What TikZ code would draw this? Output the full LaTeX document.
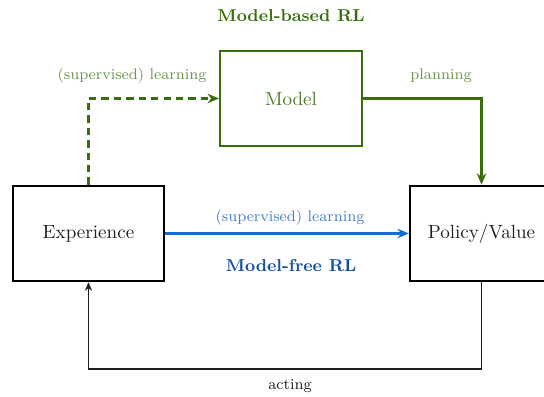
\documentclass[tikz,border=0pt]{standalone}
\usetikzlibrary{arrows.meta}
\definecolor{mbgreen}{RGB}{56,110,14}
\definecolor{mbtext}{RGB}{78,122,44}
\definecolor{mblabel}{RGB}{104,150,76}
\definecolor{mfblue}{RGB}{16,108,216}
\definecolor{mflabel}{RGB}{70,128,200}
\definecolor{mftitle}{RGB}{20,80,160}
\definecolor{inkgray}{RGB}{30,30,30}
\begin{document}
\begin{tikzpicture}[x=0.524pt,y=-0.524pt,
  blockbox/.style={draw, line width=1.1pt, minimum width=79pt, minimum height=50pt,
    inner sep=0pt, text=inkgray},
  modelbox/.style={blockbox, draw=mbgreen, text=mbtext, minimum width=74.4pt},
  greenarrow/.style={draw=mbgreen, line width=1.1pt, -{Stealth[length=6pt,width=5pt]}},
  bluearrow/.style={draw=mfblue, line width=1.1pt, -{Stealth[length=6pt,width=5pt]}},
  actarrow/.style={draw=inkgray, line width=0.8pt, -{Stealth[length=4.5pt,width=3.8pt]}},
  edgelabel/.style={font=\footnotesize},
  grouptitle/.style={font=\small\bfseries}]
\useasboundingbox (0,0) rectangle (544,397);

% boxes
\node[modelbox] (model) at (291,98.5) {Model};
\node[blockbox] (exp) at (88.5,233.5) {Experience};
\node[blockbox, minimum width=75pt] (pol) at (481.5,233.5) {Policy/Value};

% group titles
\node[grouptitle, text=mbgreen] (mbtitle) at (291,16) {Model-based RL};
\node[grouptitle, text=mftitle] (mftitle) at (291,266) {Model-free RL};

% model-based branch
\draw[greenarrow, dash pattern=on 3.8pt off 2.7pt] (exp.north) |- (model.west);
\draw[greenarrow] (model.east) -| (pol.north);
\node[edgelabel, text=mblabel] (sl1) at (132,76) {(supervised) learning};
\node[edgelabel, text=mblabel] (plan) at (441,76) {planning};

% model-free branch
\draw[bluearrow] (exp.east) -- (pol.west);
\node[edgelabel, text=mflabel] (sl2) at (290,218) {(supervised) learning};

% acting loop
\coordinate (loopR) at (481.5,369);
\coordinate (loopL) at (88.5,369);
\draw[actarrow] (pol.south) -- (loopR) -- (loopL) -- (exp.south);
\node[edgelabel, text=inkgray] (act) at (290,386) {acting};
\end{tikzpicture}
\end{document}
